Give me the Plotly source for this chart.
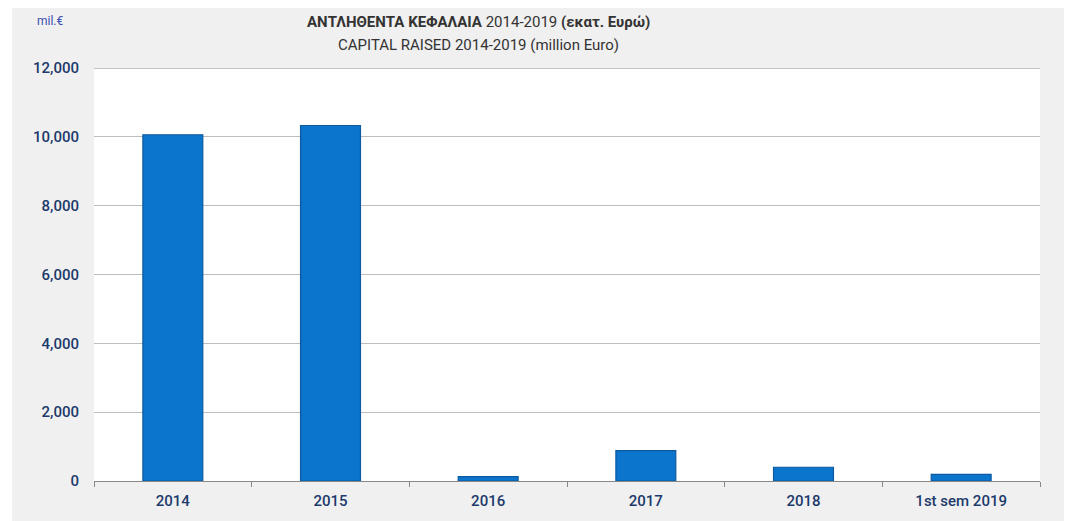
import plotly.graph_objects as go

categories = ["2014", "2015", "2016", "2017", "2018", "1st sem 2019"]
values = [10060, 10330, 130, 880, 400, 190]
y_ticks = [0, 2000, 4000, 6000, 8000, 10000, 12000]

# page has an 8px body margin; figure coordinates = page coordinates - 8
OFF = 8
W, H = 1072 - OFF, 521 - OFF
L, T = 94 - OFF, 68 - OFF
R = W - (1040 - OFF)
B = H - (481 - OFF)
pw, ph = W - L - R, H - T - B

def px_x(x):  # page px -> paper
    return (x - OFF - L) / pw

def px_y(y):
    return (H - B - (y - OFF)) / ph

font_fam = "Roboto, Noto Sans, sans-serif"
lab_col = "#1c3a6b"

fig = go.Figure()
fig.add_trace(go.Bar(
    x=categories, y=values,
    marker=dict(color="#0b74cc", line=dict(color="#0d5a9e", width=1.2)),
    hoverinfo="x+y",
))

fig.update_layout(
    width=W, height=H,
    margin=dict(l=L, r=R, t=T, b=B),
    paper_bgcolor="#f0f0f0",
    plot_bgcolor="white",
    bargap=0.62,
    showlegend=False,
    font=dict(family=font_fam, color=lab_col, size=14),
    xaxis=dict(
        type="category",
        tickson="boundaries",
        ticks="outside", ticklen=5, tickcolor="#888888",
        showline=True, linecolor="#888888", linewidth=1.2,
        showgrid=False,
        ticklabelstandoff=6,
        tickfont=dict(family=font_fam, size=15, color=lab_col, weight=500),
    ),
    yaxis=dict(
        range=[0, 12000],
        tickvals=y_ticks,
        tickformat=",",
        showgrid=True, gridcolor="#bdbdbd", gridwidth=1.2,
        zeroline=False, showline=False,
        ticks="", ticklabelstandoff=14,
        tickfont=dict(family=font_fam, size=15, color=lab_col, weight=500),
    ),
    shapes=[
        dict(type="rect", xref="paper", yref="paper", layer="below",
             x0=px_x(-20), x1=px_x(12), y0=px_y(600), y1=px_y(-20),
             fillcolor="white", line=dict(width=0)),
        dict(type="line", xref="paper", yref="y", layer="above",
             x0=0, x1=1, y0=12000, y1=12000,
             line=dict(color="#8a8a8a", width=1.2)),
    ],
    annotations=[
        dict(xref="paper", yref="paper", x=px_x(478), y=px_y(22),
             xanchor="center", yanchor="middle", showarrow=False,
             text="<b>ΑΝΤΛΗΘΕΝΤΑ ΚΕΦΑΛΑΙΑ</b> 2014-2019 <b>(εκατ. Ευρώ)</b>",
             font=dict(family=font_fam, size=15, color="#333333")),
        dict(xref="paper", yref="paper", x=px_x(478), y=px_y(45),
             xanchor="center", yanchor="middle", showarrow=False,
             text="CAPITAL RAISED 2014-2019 (million Euro)",
             font=dict(family=font_fam, size=15, color="#333333")),
        dict(xref="paper", yref="paper", x=px_x(50), y=px_y(21),
             xanchor="center", yanchor="middle", showarrow=False,
             text="mil.€",
             font=dict(family=font_fam, size=12, color="#3a4fb0")),
    ],
)

fig.write_html("out.html")
